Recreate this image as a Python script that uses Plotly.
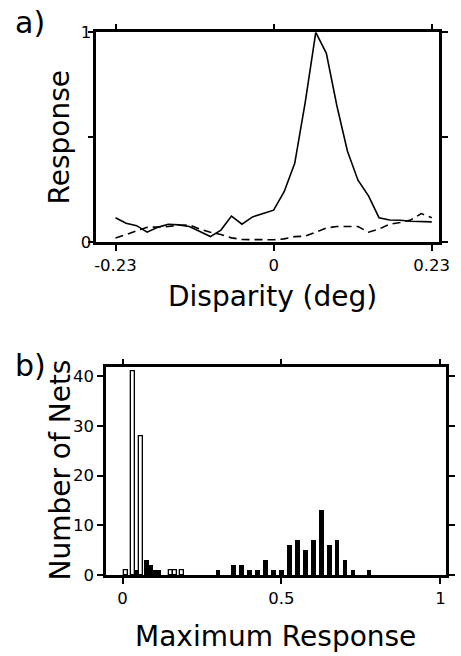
import plotly.graph_objects as go

W, H = 461, 656

# ---- Panel a data ----
disparity = [-0.23, -0.2147, -0.1993, -0.184, -0.1687, -0.1533, -0.138, -0.1227, -0.1073,
             -0.092, -0.0767, -0.0613, -0.046, -0.0307, -0.0153, 0.0, 0.0153, 0.0307,
             0.046, 0.0613, 0.0767, 0.092, 0.1073, 0.1227, 0.138, 0.1533, 0.1687,
             0.184, 0.1993, 0.2147, 0.23]
resp_solid = [0.116, 0.09, 0.078, 0.047, 0.07, 0.085, 0.082, 0.074, 0.05, 0.026, 0.057,
              0.124, 0.085, 0.12, 0.136, 0.152, 0.24, 0.375, 0.667, 1.0, 0.9, 0.65,
              0.434, 0.295, 0.22, 0.116, 0.105, 0.104, 0.099, 0.096, 0.096]
resp_dashed = [0.019, 0.036, 0.055, 0.07, 0.072, 0.074, 0.08, 0.082, 0.062, 0.047, 0.036,
               0.02, 0.012, 0.012, 0.012, 0.011, 0.015, 0.026, 0.028, 0.047, 0.067, 0.074,
               0.074, 0.074, 0.047, 0.062, 0.085, 0.093, 0.105, 0.136, 0.116]
a_xticks = [-0.23, 0, 0.23]
a_xlabels = ["-0.23", "0", "0.23"]
a_yticks = [0, 0.5, 1]
a_ylabels = ["0", "", "1"]

# ---- Panel b data ----
open_x = [0.012, 0.033, 0.059, 0.152, 0.165, 0.187]
open_n = [1, 41, 28, 1, 1, 1]
solid_x = [0.045, 0.075, 0.087, 0.1, 0.112, 0.30, 0.35, 0.375, 0.40, 0.425, 0.45, 0.475,
           0.50, 0.525, 0.55, 0.575, 0.60, 0.625, 0.65, 0.675, 0.70, 0.725, 0.775]
solid_n = [1, 3, 2, 1, 1, 1, 2, 2, 1, 1, 3, 1, 1, 6, 7, 5, 7, 13, 6, 7, 3, 1, 1]
b_xticks = [0, 0.5, 1]
b_xlabels = ["0", "0.5", "1"]
b_yticks = [0, 10, 20, 30, 40]


def px(x):
    return x / W


def py(y):
    return 1 - y / H


FONT = "DejaVu Sans"
fig = go.Figure()

fig.add_trace(go.Scatter(x=disparity, y=resp_solid, mode="lines",
                         line=dict(color="black", width=1.6),
                         xaxis="x", yaxis="y", showlegend=False))
fig.add_trace(go.Scatter(x=disparity, y=resp_dashed, mode="lines",
                         line=dict(color="black", width=1.6, dash="8px,5px"),
                         xaxis="x", yaxis="y", showlegend=False))

fig.add_trace(go.Bar(x=open_x, y=open_n, width=0.013,
                     marker=dict(color="white", line=dict(color="black", width=1.3)),
                     xaxis="x2", yaxis="y2", showlegend=False))
fig.add_trace(go.Bar(x=solid_x, y=solid_n, width=0.015,
                     marker=dict(color="black", line=dict(color="black", width=0)),
                     xaxis="x2", yaxis="y2", showlegend=False))

axis_common = dict(showline=True, linecolor="black", linewidth=2.5, mirror="ticks",
                   ticks="outside", ticklen=6, tickwidth=2, tickcolor="black",
                   showgrid=False, zeroline=False,
                   tickfont=dict(family=FONT, size=16.5, color="black"))

fig.update_layout(
    width=W, height=H,
    margin=dict(l=0, r=0, t=0, b=0),
    paper_bgcolor="white", plot_bgcolor="white",
    bargap=0,
    barmode="overlay",
    xaxis=dict(domain=[px(97), px(450)], range=[-0.258, 0.241], anchor="y",
               tickmode="array", tickvals=a_xticks, ticktext=a_xlabels, **axis_common),
    yaxis=dict(domain=[py(240), py(24)], range=[0, 1.0], anchor="x",
               tickmode="array", tickvals=a_yticks, ticktext=a_ylabels,
               ticklabelstandoff=-7, **axis_common),
    xaxis2=dict(domain=[px(107), px(457)], range=[-0.052, 1.018], anchor="y2",
                tickmode="array", tickvals=b_xticks, ticktext=b_xlabels, **axis_common),
    yaxis2=dict(domain=[py(583), py(369)], range=[0, 41.8], anchor="x2",
                tickmode="array", tickvals=b_yticks, ticktext=[str(v) for v in b_yticks],
                **axis_common),
)

ann = []
def label(text, x, y, size, angle=0, xanchor="center"):
    ann.append(dict(text=text, x=px(x), y=py(y), xref="paper", yref="paper",
                    showarrow=False, xanchor=xanchor, yanchor="middle", textangle=angle,
                    font=dict(family=FONT, size=size, color="black")))

label("a)", 11, 14, 30, xanchor="left")
label("b)", 11, 367, 30, xanchor="left")
label("Response", 59, 132, 28, angle=-90)
label("Disparity (deg)", 278, 296, 28)
label("Number of Nets", 60, 475, 28, angle=-90)
label("Maximum Response", 281, 646, 28)
fig.update_layout(annotations=ann)

fig.write_html("out.html")
